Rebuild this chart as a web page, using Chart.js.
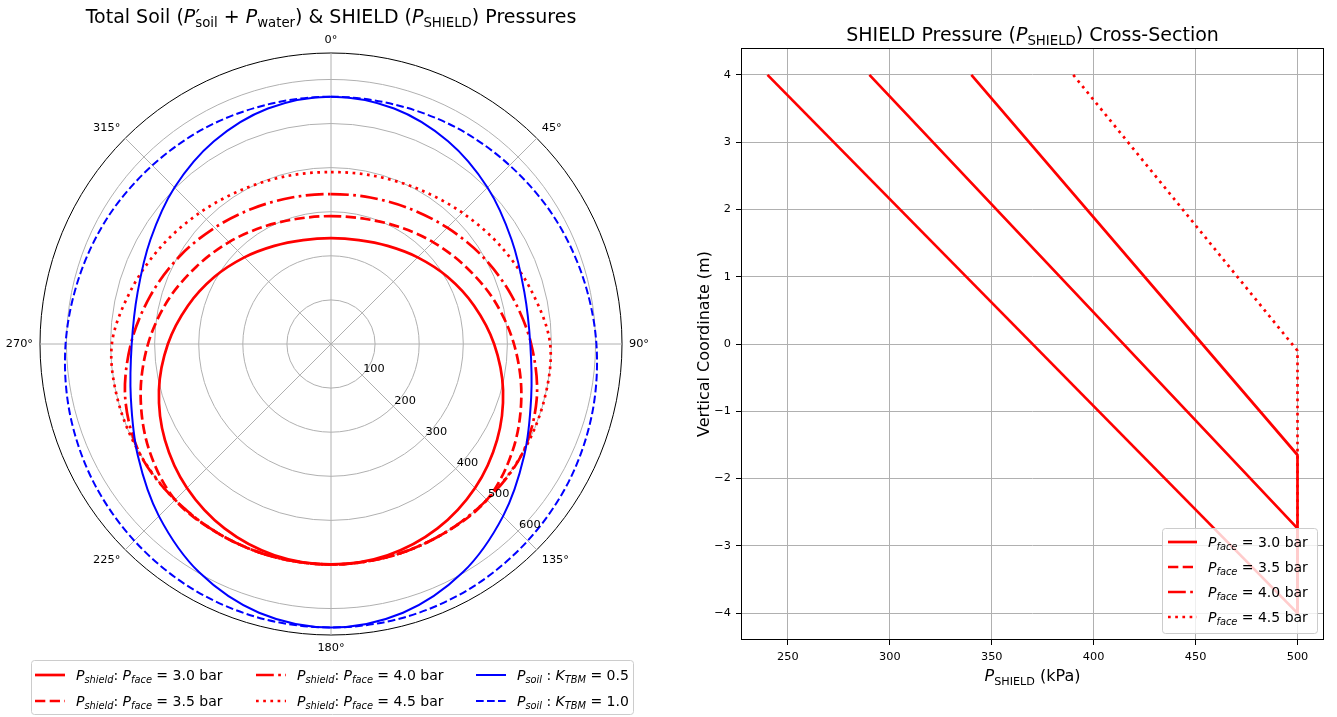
<!DOCTYPE html>
<html>
<head>
<meta charset="utf-8">
<script src="https://cdn.jsdelivr.net/npm/chart.js@4.4.1/dist/chart.umd.min.js"></script>
<style>
    body { margin: 0; background: #fff; }
    #graficoPolar { position: absolute; left: 0; top: 0; }
    #graficoCorte { position: absolute; left: 665px; top: 0; }
</style>
</head>
<body>
<canvas id="graficoPolar" width="665" height="717"></canvas>
<canvas id="graficoCorte" width="672" height="717"></canvas>
<script>
// Ângulos do gráfico polar (graus, 0 no topo, sentido horário)
const angulos = [0, 15, 30, 45, 60, 75, 90, 105, 120, 135, 150, 165, 180, 195, 210, 225, 240, 255, 270, 285, 300, 315, 330, 345];

// Pressão no escudo (kPa) em cada ângulo, para cada pressão de face
const pShield30 = [240, 244, 257, 278, 305, 336, 370, 404, 435, 462, 483, 496, 500, 496, 483, 462, 435, 404, 370, 336, 305, 278, 257, 244];
const pShield35 = [290, 294, 307, 327, 352, 383, 415, 447, 477, 500, 500, 500, 500, 500, 500, 500, 477, 447, 415, 383, 352, 327, 307, 294];
const pShield40 = [340, 344, 355, 373, 397, 424, 454, 483, 500, 500, 500, 500, 500, 500, 500, 500, 500, 483, 454, 424, 397, 373, 355, 344];
const pShield45 = [390, 394, 404, 421, 444, 470, 497, 500, 500, 500, 500, 500, 500, 500, 500, 500, 500, 500, 497, 470, 444, 421, 404, 394];

// Pressão total do solo (kPa) para K_TBM = 0.5 e 1.0
const pSoil05 = [561, 553, 531, 502, 473, 454, 452, 470, 506, 552, 598, 631, 643, 631, 598, 552, 506, 470, 452, 454, 473, 502, 531, 553];
const pSoil10 = [561, 562, 567, 573, 582, 591, 602, 613, 623, 631, 638, 642, 643, 642, 638, 631, 623, 613, 602, 591, 582, 573, 567, 562];

const pressoesFace = ['3.0', '3.5', '4.0', '4.5'];
const valoresK = ['0.5', '1.0'];
const raiosTicks = [100, 200, 300, 400, 500, 600];
const raioMax = 660;

// Corte: pressão no escudo (kPa) x coordenada vertical (m)
const corteP30 = [240, 500];
const corteZ30 = [4, -4];
const corteP35 = [290, 500, 500];
const corteZ35 = [4, -2.74, -4];
const corteP40 = [340, 500, 500];
const corteZ40 = [4, -1.65, -4];
const corteP45 = [390, 500, 500];
const corteZ45 = [4, -0.1, -4];

const ticksX = [250, 300, 350, 400, 450, 500];
const ticksZ = [-4, -3, -2, -1, 0, 1, 2, 3, 4];

const FONTE = '"DejaVu Sans"';
const TRACOS = {
    cheio: [],
    tracejado: [10.3, 4.4],
    tracoPonto: [17.8, 4.4, 2.7, 4.4],
    pontilhado: [2.7, 4.5],
    tracejadoFino: [7.7, 3.3]
};

// Escreve texto com partes em itálico e subscrito (estilo mathtext)
// tipos: 'r' normal, 'i' itálico, 'sr' subscrito normal, 'si' subscrito itálico, 'p' linha (sem avanço)
function textoRico(ctx, partes, x, y, tam, alinhar) {
    const fonteDe = (tipo) => {
        const sub = tipo[0] === 's';
        const ital = tipo === 'i' || tipo === 'si';
        return (ital ? 'italic ' : '') + (sub ? tam * 0.7 : tam) + 'px ' + FONTE;
    };
    let largura = 0;
    for (const [t, tipo] of partes) {
        if (tipo === 'p') continue;
        ctx.font = fonteDe(tipo);
        largura += ctx.measureText(t).width;
    }
    let cx = alinhar === 'center' ? x - largura / 2 : (alinhar === 'right' ? x - largura : x);
    ctx.textAlign = 'left';
    ctx.textBaseline = 'alphabetic';
    for (const [t, tipo] of partes) {
        ctx.font = fonteDe(tipo);
        if (tipo === 'p') { ctx.fillText(t, cx + 0.5, y); continue; }
        ctx.fillText(t, cx, tipo[0] === 's' ? y + tam * 0.22 : y);
        cx += ctx.measureText(t).width;
    }
}

function amostraLinha(ctx, x, y, comp, cor, larg, traco) {
    ctx.save();
    ctx.strokeStyle = cor;
    ctx.lineWidth = larg;
    ctx.setLineDash(traco);
    ctx.beginPath();
    ctx.moveTo(x, y);
    ctx.lineTo(x + comp, y);
    ctx.stroke();
    ctx.restore();
}

function caixaLegenda(ctx, x, y, w, h) {
    const r = 3;
    ctx.save();
    ctx.beginPath();
    ctx.moveTo(x + r, y);
    ctx.arcTo(x + w, y, x + w, y + h, r);
    ctx.arcTo(x + w, y + h, x, y + h, r);
    ctx.arcTo(x, y + h, x, y, r);
    ctx.arcTo(x, y, x + w, y, r);
    ctx.closePath();
    ctx.fillStyle = 'rgba(255,255,255,0.8)';
    ctx.fill();
    ctx.strokeStyle = '#cccccc';
    ctx.lineWidth = 1;
    ctx.stroke();
    ctx.restore();
}

const rotuloShield = (pf) => [['P', 'i'], ['shield', 'si'], [': ', 'r'], ['P', 'i'], ['face', 'si'], [' = ' + pf + ' bar', 'r']];
const rotuloSoil = (k) => [['P', 'i'], ['soil', 'si'], [' : ', 'r'], ['K', 'i'], ['TBM', 'si'], [' = ' + k, 'r']];
const rotuloFace = (pf) => [['P', 'i'], ['face', 'si'], [' = ' + pf + ' bar', 'r']];

// ---------- Gráfico polar (radar) ----------
function serieRadar(dados, cor, larg, traco, partes, ordem) {
    return {
        label: partes.map(p => p[0]).join(''),
        partes: partes,
        data: dados,
        borderColor: cor,
        borderWidth: larg,
        borderDash: traco,
        fill: false,
        pointRadius: 0,
        tension: 0.33,
        order: ordem
    };
}

const textosPolar = {
    id: 'textosPolar',
    afterDraw(chart) {
        const ctx = chart.ctx;
        const r = chart.scales.r;
        ctx.save();
        ctx.fillStyle = '#000';

        // rótulos angulares a cada 45°
        ctx.font = '11.3px ' + FONTE;
        chart.data.labels.forEach((lab, i) => {
            const a = angulos[i];
            if (a % 45 !== 0) return;
            const p = r.getPointPosition(i, r.drawingArea + 7);
            ctx.textAlign = (a === 0 || a === 180) ? 'center' : (a < 180 ? 'left' : 'right');
            ctx.textBaseline = (a === 90 || a === 270) ? 'middle' : ((a < 90 || a > 270) ? 'bottom' : 'top');
            ctx.fillText(lab, p.x, p.y);
        });

        // rótulos radiais ao longo de 135°
        const idx135 = angulos.indexOf(135);
        ctx.textAlign = 'left';
        ctx.textBaseline = 'bottom';
        raiosTicks.forEach(v => {
            const p = r.getPointPosition(idx135, r.getDistanceFromCenterForValue(v));
            ctx.fillText(String(v), p.x + 1, p.y);
        });

        // título
        ctx.fillStyle = '#000';
        textoRico(ctx, [['Total Soil (', 'r'], ['P', 'i'], ['\u2032', 'p'], ['soil', 'sr'], [' + ', 'r'], ['P', 'i'], ['water', 'sr'],
            [') & SHIELD (', 'r'], ['P', 'i'], ['SHIELD', 'sr'], [') Pressures', 'r']], 331, 23, 19, 'center');

        // legenda em três colunas
        caixaLegenda(ctx, 31.5, 660.5, 602, 54);
        const colunas = [[0, 1], [2, 3], [4, 5]];
        const xCol = [35, 256, 476];
        const yLin = [675, 701];
        colunas.forEach((col, c) => {
            col.forEach((di, l) => {
                const ds = chart.data.datasets[di];
                amostraLinha(ctx, xCol[c], yLin[l], 30, ds.borderColor, ds.borderWidth, ds.borderDash);
                ctx.fillStyle = '#000';
                textoRico(ctx, ds.partes, xCol[c] + 41, yLin[l] + 5, 14, 'left');
            });
        });
        ctx.restore();
    }
};

new Chart(document.getElementById('graficoPolar'), {
    type: 'radar',
    data: {
        labels: angulos.map(a => a + '°'),
        datasets: [
            serieRadar(pShield30, '#ff0000', 2.7, TRACOS.cheio, rotuloShield(pressoesFace[0]), 1),
            serieRadar(pShield35, '#ff0000', 2.7, TRACOS.tracejado, rotuloShield(pressoesFace[1]), 1),
            serieRadar(pShield40, '#ff0000', 2.7, TRACOS.tracoPonto, rotuloShield(pressoesFace[2]), 1),
            serieRadar(pShield45, '#ff0000', 2.7, TRACOS.pontilhado, rotuloShield(pressoesFace[3]), 1),
            serieRadar(pSoil05, '#0000ff', 2, TRACOS.cheio, rotuloSoil(valoresK[0]), 0),
            serieRadar(pSoil10, '#0000ff', 2, TRACOS.tracejadoFino, rotuloSoil(valoresK[1]), 0)
        ]
    },
    options: {
        responsive: false,
        animation: false,
        layout: { padding: { left: 40, right: 43, top: 53, bottom: 82 } },
        plugins: { legend: { display: false }, tooltip: { enabled: false } },
        scales: {
            r: {
                min: 0,
                max: raioMax,
                afterBuildTicks: (s) => { s.ticks = [0, ...raiosTicks, raioMax].map(v => ({ value: v })); },
                ticks: { display: false },
                pointLabels: { display: false },
                grid: {
                    circular: true,
                    color: (c) => (c.tick && c.tick.value >= raioMax) ? '#000000' : '#b0b0b0',
                    lineWidth: 1
                },
                angleLines: {
                    color: '#b0b0b0',
                    lineWidth: (c) => (angulos[c.index] % 45 === 0 ? 1 : 0)
                }
            }
        }
    },
    plugins: [textosPolar]
});

// ---------- Gráfico do corte (pressão x profundidade) ----------
function serieCorte(px, pz, traco, tracoLegenda, partes) {
    return {
        label: partes.map(p => p[0]).join(''),
        partes: partes,
        tracoLegenda: tracoLegenda,
        data: px.map((x, i) => ({ x: x, y: pz[i] })),
        showLine: true,
        borderColor: '#ff0000',
        borderWidth: 2.7,
        borderDash: traco,
        borderJoinStyle: 'round',
        pointRadius: 0,
        fill: false
    };
}

const textosCorte = {
    id: 'textosCorte',
    afterDraw(chart) {
        const ctx = chart.ctx;
        const a = chart.chartArea;
        ctx.save();
        // moldura completa
        ctx.strokeStyle = '#000';
        ctx.lineWidth = 1;
        ctx.strokeRect(Math.round(a.left) + 0.5, Math.round(a.top) + 0.5, Math.round(a.width) - 1, Math.round(a.height) - 1);

        ctx.fillStyle = '#000';
        const cx = (a.left + a.right) / 2;
        textoRico(ctx, [['SHIELD Pressure (', 'r'], ['P', 'i'], ['SHIELD', 'sr'], [') Cross-Section', 'r']], cx, 41, 19, 'center');
        textoRico(ctx, [['P', 'i'], ['SHIELD', 'sr'], [' (kPa)', 'r']], cx, 681, 16, 'center');

        ctx.save();
        ctx.translate(44, (a.top + a.bottom) / 2);
        ctx.rotate(-Math.PI / 2);
        ctx.font = '16px ' + FONTE;
        ctx.textAlign = 'center';
        ctx.textBaseline = 'alphabetic';
        ctx.fillText('Vertical Coordinate (m)', 0, 0);
        ctx.restore();

        // legenda no canto inferior direito
        caixaLegenda(ctx, 497.5, 528.5, 155, 105);
        const yLin = [542, 567, 592, 617];
        chart.data.datasets.forEach((ds, i) => {
            amostraLinha(ctx, 503, yLin[i], 29, ds.borderColor, ds.borderWidth, ds.tracoLegenda);
            ctx.fillStyle = '#000';
            textoRico(ctx, ds.partes, 543, yLin[i] + 5, 14, 'left');
        });
        ctx.restore();
    }
};

new Chart(document.getElementById('graficoCorte'), {
    type: 'scatter',
    data: {
        datasets: [
            serieCorte(corteP30, corteZ30, TRACOS.cheio, TRACOS.cheio, rotuloFace(pressoesFace[0])),
            serieCorte(corteP35, corteZ35, TRACOS.cheio, TRACOS.tracejado, rotuloFace(pressoesFace[1])),
            serieCorte(corteP40, corteZ40, TRACOS.cheio, TRACOS.tracoPonto, rotuloFace(pressoesFace[2])),
            serieCorte(corteP45, corteZ45, TRACOS.pontilhado, TRACOS.pontilhado, rotuloFace(pressoesFace[3]))
        ]
    },
    options: {
        responsive: false,
        animation: false,
        layout: { padding: { left: 0, right: 13, top: 48, bottom: 0 } },
        plugins: { legend: { display: false }, tooltip: { enabled: false } },
        scales: {
            x: {
                type: 'linear',
                min: 227,
                max: 513,
                afterBuildTicks: (s) => { s.ticks = ticksX.map(v => ({ value: v })); },
                afterFit: (s) => { s.height = 77; },
                grid: { color: '#b0b0b0', lineWidth: 1, tickColor: '#000', tickLength: 5 },
                border: { display: false },
                ticks: { color: '#000', font: { family: FONTE, size: 11.3 }, padding: 5, maxRotation: 0 }
            },
            y: {
                type: 'linear',
                min: -4.4,
                max: 4.4,
                afterBuildTicks: (s) => { s.ticks = ticksZ.map(v => ({ value: v })); },
                afterFit: (s) => { s.width = 76; },
                grid: { color: '#b0b0b0', lineWidth: 1, tickColor: '#000', tickLength: 5 },
                border: { display: false },
                ticks: {
                    color: '#000',
                    font: { family: FONTE, size: 11.3 },
                    padding: 5,
                    callback: (v) => String(v).replace('-', '\u2212')
                }
            }
        }
    },
    plugins: [textosCorte]
});
</script>
</body>
</html>
